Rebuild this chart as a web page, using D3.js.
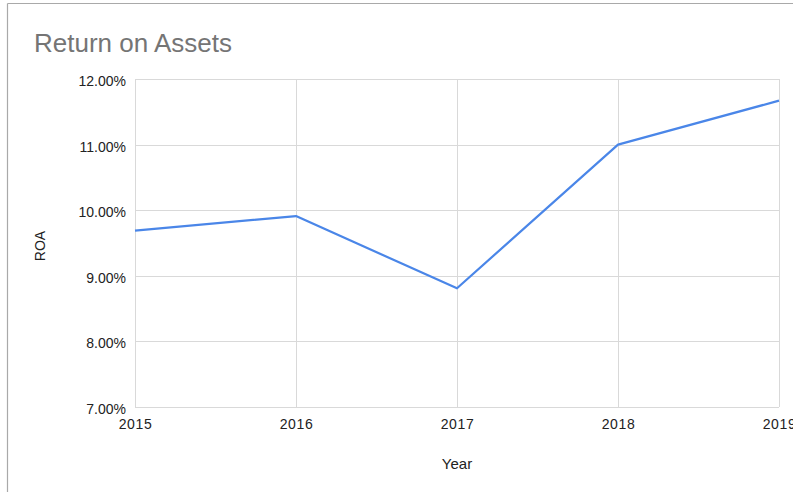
<!DOCTYPE html>
<html>
<head>
<meta charset="utf-8">
<script src="https://cdn.jsdelivr.net/npm/d3@7"></script>
<style>
  html, body { margin: 0; padding: 0; background: #fff; }
  svg { display: block; font-family: "Liberation Sans", Arial, sans-serif; }
</style>
</head>
<body>
<svg id="chart" width="793" height="492"></svg>
<script>
// Return on assets by year
const years = [2015, 2016, 2017, 2018, 2019];
const roa = [9.69, 9.91, 8.81, 11.0, 11.67];
const yTicks = [7, 8, 9, 10, 11, 12];

const svg = d3.select("#chart");
const W = 793, H = 492;
const plot = { left: 135, right: 779, top: 79, bottom: 407 };
const labelFont = "Liberation Sans, Arial, sans-serif";

// outer frame (top and left edges of the card)
svg.append("line").attr("x1", 7.5).attr("x2", W).attr("y1", 3.5).attr("y2", 3.5)
  .attr("stroke", "#a9a9a9").attr("stroke-width", 1.2);
svg.append("line").attr("x1", 7.5).attr("x2", 7.5).attr("y1", 3.5).attr("y2", H)
  .attr("stroke", "#a9a9a9").attr("stroke-width", 1.2);

const x = d3.scalePoint().domain(years).range([plot.left, plot.right]);
const y = d3.scaleLinear().domain([7, 12]).range([plot.bottom, plot.top]);

// horizontal gridlines
svg.append("g").selectAll("line").data(yTicks).join("line")
  .attr("x1", plot.left).attr("x2", plot.right)
  .attr("y1", d => Math.round(y(d)) + 0.5).attr("y2", d => Math.round(y(d)) + 0.5)
  .attr("stroke", "#d9d9d9").attr("stroke-width", 1);

// vertical gridlines
svg.append("g").selectAll("line").data(years).join("line")
  .attr("x1", d => Math.round(x(d)) + 0.5).attr("x2", d => Math.round(x(d)) + 0.5)
  .attr("y1", plot.top).attr("y2", plot.bottom)
  .attr("stroke", "#d9d9d9").attr("stroke-width", 1);

// y-axis labels
const fmt = d => d.toFixed(2) + "%";
const yAxis = svg.append("g").attr("transform", `translate(${plot.left - 9},0)`)
  .call(d3.axisLeft(y).tickValues(yTicks).tickFormat(fmt).tickSize(0).tickPadding(0));
yAxis.select(".domain").remove();
yAxis.selectAll("text").attr("font-size", 14).attr("fill", "#222")
  .attr("font-family", labelFont).attr("dy", "0.46em");

// x-axis labels
const xAxis = svg.append("g").attr("transform", `translate(0,${plot.bottom + 9})`)
  .call(d3.axisBottom(x).tickSize(0).tickPadding(0));
xAxis.select(".domain").remove();
xAxis.selectAll("text").attr("font-size", 14).attr("fill", "#222")
  .attr("font-family", labelFont).attr("dy", "0.9em").attr("letter-spacing", "0.6px");

// data line
const line = d3.line().x((d, i) => x(years[i])).y(d => y(d));
svg.append("path").datum(roa).attr("d", line)
  .attr("fill", "none").attr("stroke", "#4a86e8").attr("stroke-width", 2.2)
  .attr("stroke-linejoin", "round");

// title
svg.append("text").attr("x", 34).attr("y", 52)
  .attr("font-size", 26).attr("fill", "#757575").text("Return on Assets");

// axis titles
svg.append("text").attr("x", 457).attr("y", 469)
  .attr("text-anchor", "middle").attr("font-size", 15).attr("fill", "#222").text("Year");
svg.append("text").attr("transform", `translate(45,246) rotate(-90)`)
  .attr("text-anchor", "middle").attr("font-size", 14).attr("fill", "#222").text("ROA");
</script>
</body>
</html>
